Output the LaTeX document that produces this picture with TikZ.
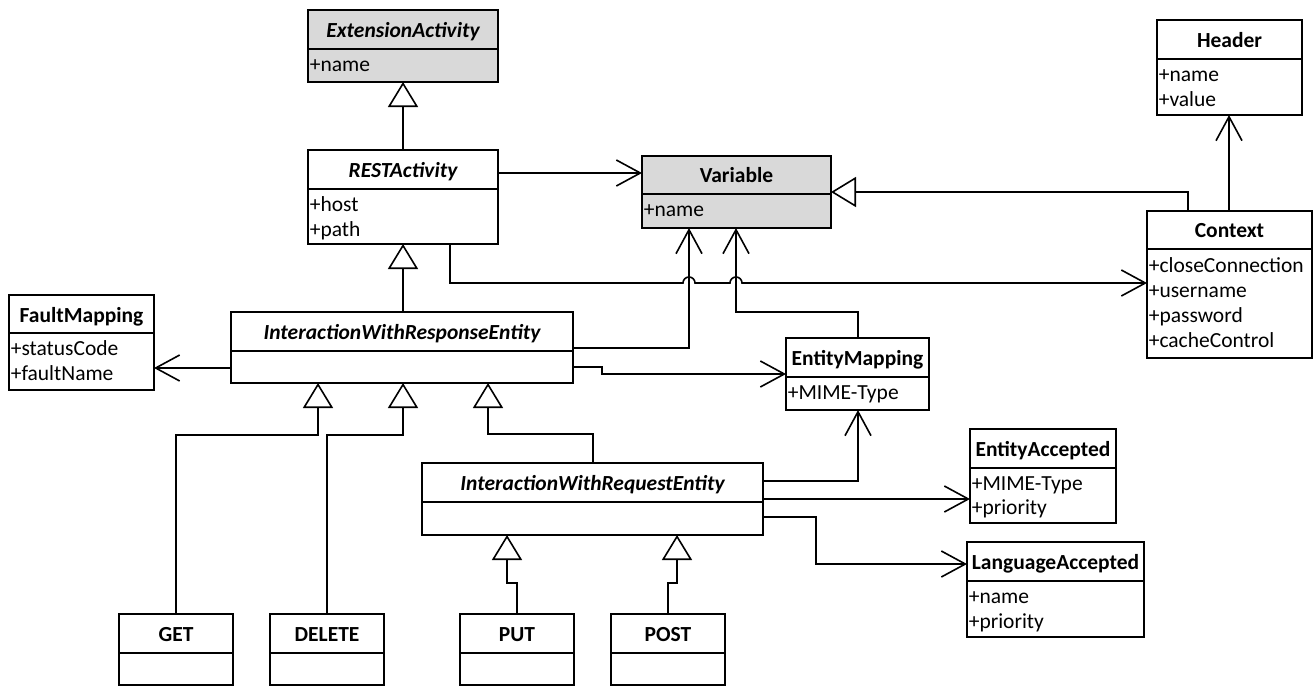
\documentclass[tikz,border=0pt]{standalone}
\usepackage{fontspec}
\setmainfont{Carlito}
\usetikzlibrary{arrows.meta}
\newcommand\fsz{\fontsize{21.5}{25}\selectfont}
\definecolor{umlgray}{HTML}{D9D9D9}
\newcommand\umlbox[7]{%
  \node[box, fill=#7, minimum width={(#4-#2)*1pt}, minimum height={(#6-#3)*1pt}] (#1) at ({(#2+#4)/2},{(#3+#6)/2}) {};
  \draw[line width=1.6pt] (#2,#5) -- (#4,#5);
}
\begin{document}
\begin{tikzpicture}[x=1pt,y=-1pt, line width=1.6pt, font=\fsz,
  box/.style={draw, line width=1.6pt, inner sep=0pt, outer sep=0pt},
  ttl/.style={anchor=base, inner sep=0pt, font=\fsz\bfseries},
  ttli/.style={anchor=base, inner sep=0pt, font=\fsz\bfseries\itshape},
  attr/.style={anchor=base west, inner sep=0pt, font=\fsz},
  assoc/.style={-{Straight Barb[length=24pt,width=26pt]}},
  gen/.style={-{Triangle[length=25pt,width=30pt,fill=white]}},
]
\useasboundingbox (0,0) rectangle (1316,686);

% classes
\umlbox{ext}{308}{10}{498}{49}{82}{umlgray}
\node[ttli] (extT) at (403,37) {ExtensionActivity};
\node[attr] (extA) at (309,71) {+name};

\umlbox{rest}{308}{150}{498}{189}{244}{white}
\node[ttli] (restT) at (403,177) {RESTActivity};
\node[attr] (restA1) at (309,211) {+host};
\node[attr] (restA2) at (309,236) {+path};

\umlbox{var}{642}{156}{831}{194}{228}{umlgray}
\node[ttl] (varT) at (736.5,182) {Variable};
\node[attr] (varA) at (643,216) {+name};

\umlbox{header}{1157}{20}{1302}{59}{115}{white}
\node[ttl] (headerT) at (1229.5,47) {Header};
\node[attr] (headerA1) at (1158,81) {+name};
\node[attr] (headerA2) at (1158,106) {+value};

\umlbox{context}{1147}{211}{1312}{249}{358}{white}
\node[ttl] (contextT) at (1229.5,237) {Context};
\node[attr] (contextA1) at (1148,272) {+closeConnection};
\node[attr] (contextA2) at (1148,297) {+username};
\node[attr] (contextA3) at (1148,322) {+password};
\node[attr] (contextA4) at (1148,347) {+cacheControl};

\umlbox{fault}{9}{295}{154}{333}{390}{white}
\node[ttl] (faultT) at (81.5,322) {FaultMapping};
\node[attr] (faultA1) at (10,355) {+statusCode};
\node[attr] (faultA2) at (10,380) {+faultName};

\umlbox{iwre}{231}{312}{573}{351}{383}{white}
\node[ttli] (iwreT) at (402,339) {InteractionWithResponseEntity};

\umlbox{entmap}{786}{338}{929}{377}{410}{white}
\node[ttl] (entmapT) at (857.5,365) {EntityMapping};
\node[attr] (entmapA) at (787,399) {+MIME-Type};

\umlbox{iwreq}{422}{463}{763}{502}{535}{white}
\node[ttli] (iwreqT) at (592.5,490) {InteractionWithRequestEntity};

\umlbox{entacc}{970}{429}{1116}{468}{523}{white}
\node[ttl] (entaccT) at (1043,456) {EntityAccepted};
\node[attr] (entaccA1) at (971,490) {+MIME-Type};
\node[attr] (entaccA2) at (971,514) {+priority};

\umlbox{langacc}{967}{542}{1144}{581}{637}{white}
\node[ttl] (langaccT) at (1055.5,569) {LanguageAccepted};
\node[attr] (langaccA1) at (968,603) {+name};
\node[attr] (langaccA2) at (968,628) {+priority};

\umlbox{get}{119}{614}{233}{653}{685}{white}
\node[ttl] (getT) at (176,641) {GET};
\umlbox{delete}{270}{614}{384}{653}{685}{white}
\node[ttl] (deleteT) at (327,641) {DELETE};
\umlbox{put}{460}{614}{574}{653}{685}{white}
\node[ttl] (putT) at (517,641) {PUT};
\umlbox{post}{611}{614}{725}{653}{685}{white}
\node[ttl] (postT) at (668,641) {POST};

% connectors
\draw[gen] (rest.north) -- (ext.south);
\draw[assoc] (rest.east |- 0,173) -- (var.west |- 0,173);
\draw[assoc] (rest.south -| 450,0) -- (450,283) -- (683,283)
  arc[start angle=180,end angle=0,radius=6pt] -- (730,283)
  arc[start angle=180,end angle=0,radius=6pt] -- (context.west |- 0,283);
\draw[gen] (context.north -| 1188,0) -- (1188,192) -- (var.east |- 0,192);
\draw[assoc] (context.north -| 1229,0) -- (header.south -| 1229,0);
\draw[gen] (iwre.north -| rest.south) -- (rest.south);
\draw[assoc] (iwre.west |- 0,368) -- (fault.east |- 0,368);
\draw[assoc] (iwre.east |- 0,348) -- (689,348) -- (var.south -| 689,0);
\draw[assoc] (iwre.east |- 0,367) -- (602,367) -- (602,374) -- (entmap.west |- 0,374);
\draw[assoc] (entmap.north -| 858,0) -- (858,312) -- (736,312) -- (var.south -| 736,0);
\draw[gen] (get.north) -- (176,435) -- (318,435) -- (iwre.south -| 318,0);
\draw[gen] (delete.north) -- (327,435) -- (403,435) -- (iwre.south -| 403,0);
\draw[gen] (iwreq.north -| 593,0) -- (593,434) -- (488,434) -- (iwre.south -| 488,0);
\draw[assoc] (iwreq.east |- 0,481) -- (858,481) -- (entmap.south -| 858,0);
\draw[assoc] (iwreq.east |- 0,499) -- (entacc.west |- 0,499);
\draw[assoc] (iwreq.east |- 0,517) -- (816,517) -- (816,564) -- (langacc.west |- 0,564);
\draw[gen] (put.north) -- (517,583) -- (507,583) -- (iwreq.south -| 507,0);
\draw[gen] (post.north) -- (668,583) -- (677,583) -- (iwreq.south -| 677,0);
\end{tikzpicture}
\end{document}
